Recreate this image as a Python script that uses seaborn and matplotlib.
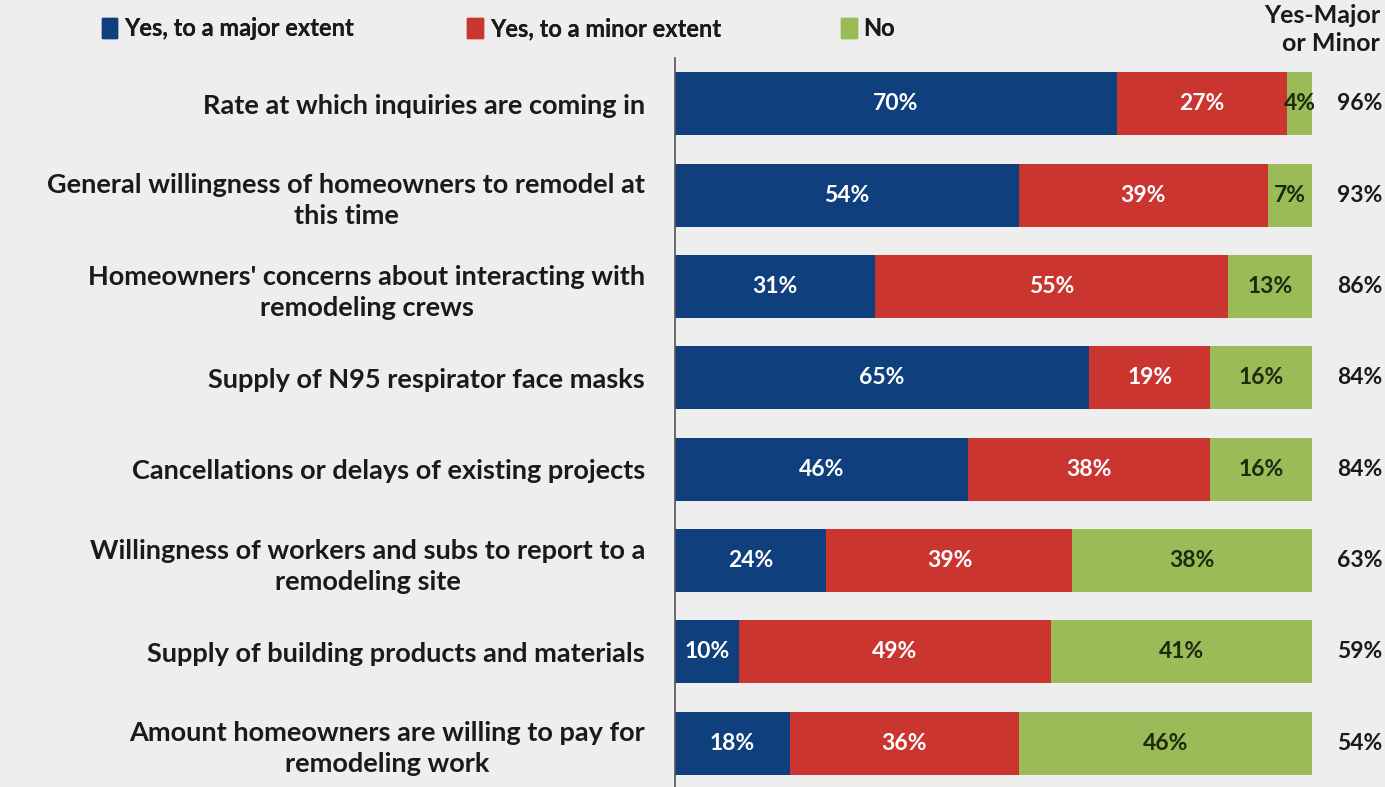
import numpy as np
import pandas as pd
import matplotlib
matplotlib.use("Agg")
import matplotlib.pyplot as plt
import seaborn as sns

# data
categories = [
    "Rate at which inquiries are coming in",
    "General willingness of homeowners to remodel at\nthis time",
    "Homeowners' concerns about interacting with\nremodeling crews",
    "Supply of N95 respirator face masks",
    "Cancellations or delays of existing projects",
    "Willingness of workers and subs to report to a\nremodeling site",
    "Supply of building products and materials",
    "Amount homeowners are willing to pay for\nremodeling work",
]
major = [70, 54, 31, 65, 46, 24, 10, 18]
minor = [27, 39, 55, 19, 38, 39, 49, 36]
no = [4, 7, 13, 16, 16, 38, 41, 46]
yes_total = [96, 93, 86, 84, 84, 63, 59, 54]
series_names = ["Yes, to a major extent", "Yes, to a minor extent", "No"]

BLUE = "#0f3f7c"
RED = "#cb3530"
GREEN = "#9bbb59"
BG = "#eeeeee"
TXT = "#1a1a1a"

df = pd.DataFrame({"cat": categories, "major": major, "minor": minor, "no": no})
row_sum = df[["major", "minor", "no"]].sum(axis=1)
# normalise each row to a full 100% bar (labels keep the rounded values)
df["c1"] = df["major"] / row_sum * 100
df["c2"] = (df["major"] + df["minor"]) / row_sum * 100
df["c3"] = 100.0

sns.set_theme(style="white")
plt.rcParams["font.family"] = ["Lato", "DejaVu Sans"]

fig = plt.figure(figsize=(13.85, 7.87), dpi=100, facecolor=BG)
ax = fig.add_axes([0.4874, -0.0025, 0.46, 0.9285])
ax.set_facecolor(BG)

# stacked by overlaying cumulative sums
for col, c in [("c3", GREEN), ("c2", RED), ("c1", BLUE)]:
    sns.barplot(data=df, x=col, y="cat", color=c, width=0.69, saturation=1,
                linewidth=0, ax=ax, orient="h")

lab = dict(ha="center", va="center", fontsize=16.5, fontweight="bold")
for i, r in df.iterrows():
    ax.text(r["c1"] / 2, i, f"{r['major']}%", color="white", **lab)
    ax.text((r["c1"] + r["c2"]) / 2, i, f"{r['minor']}%", color="white", **lab)
    ax.text((r["c2"] + r["c3"]) / 2, i, f"{r['no']}%", color="#1d2a0c", **lab)
    ax.text(107.5, i, f"{yes_total[i]}%", color=TXT, **lab)

ax.set_xlim(0, 100)
ax.set_ylim(len(categories) - 0.5, -0.5)
ax.set_xlabel("")
ax.set_ylabel("")
ax.set_xticks([])
for s in ["top", "right", "bottom"]:
    ax.spines[s].set_visible(False)
ax.spines["left"].set_color("#555555")
ax.spines["left"].set_linewidth(1.2)
ax.tick_params(axis="y", which="major", length=0, pad=21.5, labelsize=19.5)
ax.set_yticks(np.arange(len(categories) + 1) - 0.5, minor=True)
ax.tick_params(axis="y", which="minor", length=6, width=1.2, color="#555555", direction="out")
for t in ax.get_yticklabels():
    t.set_fontweight("bold")
    t.set_color(TXT)
    t.set_multialignment("center")
    t.set_linespacing(1.35)

fig.text(0.9965, 0.995, "Yes-Major\nor Minor", ha="right", va="top",
         fontsize=18, fontweight="bold", color=TXT, linespacing=1.25)

# legend entries sit at uneven spacing in the source, so one legend per entry
leg_x = [0.058, 0.322, 0.592]
for name, c, x in zip(series_names, (BLUE, RED, GREEN), leg_x):
    h = plt.Rectangle((0, 0), 1, 1, color=c)
    leg = fig.legend([h], [name], loc="upper left", bbox_to_anchor=(x, 1.005),
                     frameon=False, handlelength=0.65, handleheight=0.9,
                     handletextpad=0.3, prop={"weight": "bold", "size": 17})
    for t in leg.get_texts():
        t.set_color(TXT)
    fig.add_artist(leg)

fig.savefig("out.png", dpi=100, facecolor=BG)
